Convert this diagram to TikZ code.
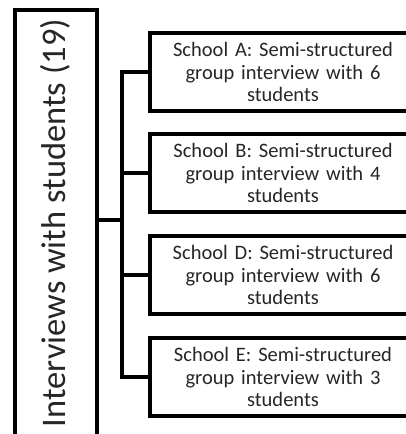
\documentclass[tikz,border=0pt]{standalone}
\usepackage{fontspec}
\setmainfont{Carlito}
\begin{document}
\begin{tikzpicture}[x=1pt,y=-1pt,
  frame/.style={draw=black,line width=4pt},
  school/.style={frame,minimum width=266pt,minimum height=78pt,anchor=north west,
     text width=260pt,align=center,font=\fontsize{20.5}{22.5}\selectfont,text=black!85,inner sep=0pt},
  link/.style={draw=black,line width=4pt}]
\useasboundingbox (0,0) rectangle (406,434);
\clip (0,0) rectangle (406,434);
\node[frame,anchor=north west,minimum width=82pt,minimum height=460pt,inner sep=0pt] (main) at (13,8) {};
\node[rotate=90,font=\fontsize{34.5}{37}\selectfont,text=black!85] (title) at (55,223) {Interviews with students (19)};
\node[school] (a) at (148,31) {School A: Semi-structured\\ group interview with 6\\ students};
\node[school] (b) at (148,132) {School B: Semi-structured\\ group interview with 4\\ students};
\node[school] (d) at (148,234) {School D: Semi-structured\\ group interview with 6\\ students};
\node[school] (e) at (148,336) {School E: Semi-structured\\ group interview with 3\\ students};
\coordinate (j) at (122,220);
\draw[link] (main.east |- j) -- (j);
\draw[link,line cap=rect] (a.west -| j) -- (e.west -| j);
\foreach \n in {a,b,d,e} \draw[link] (\n.west -| j) -- (\n.west);
\end{tikzpicture}
\end{document}
